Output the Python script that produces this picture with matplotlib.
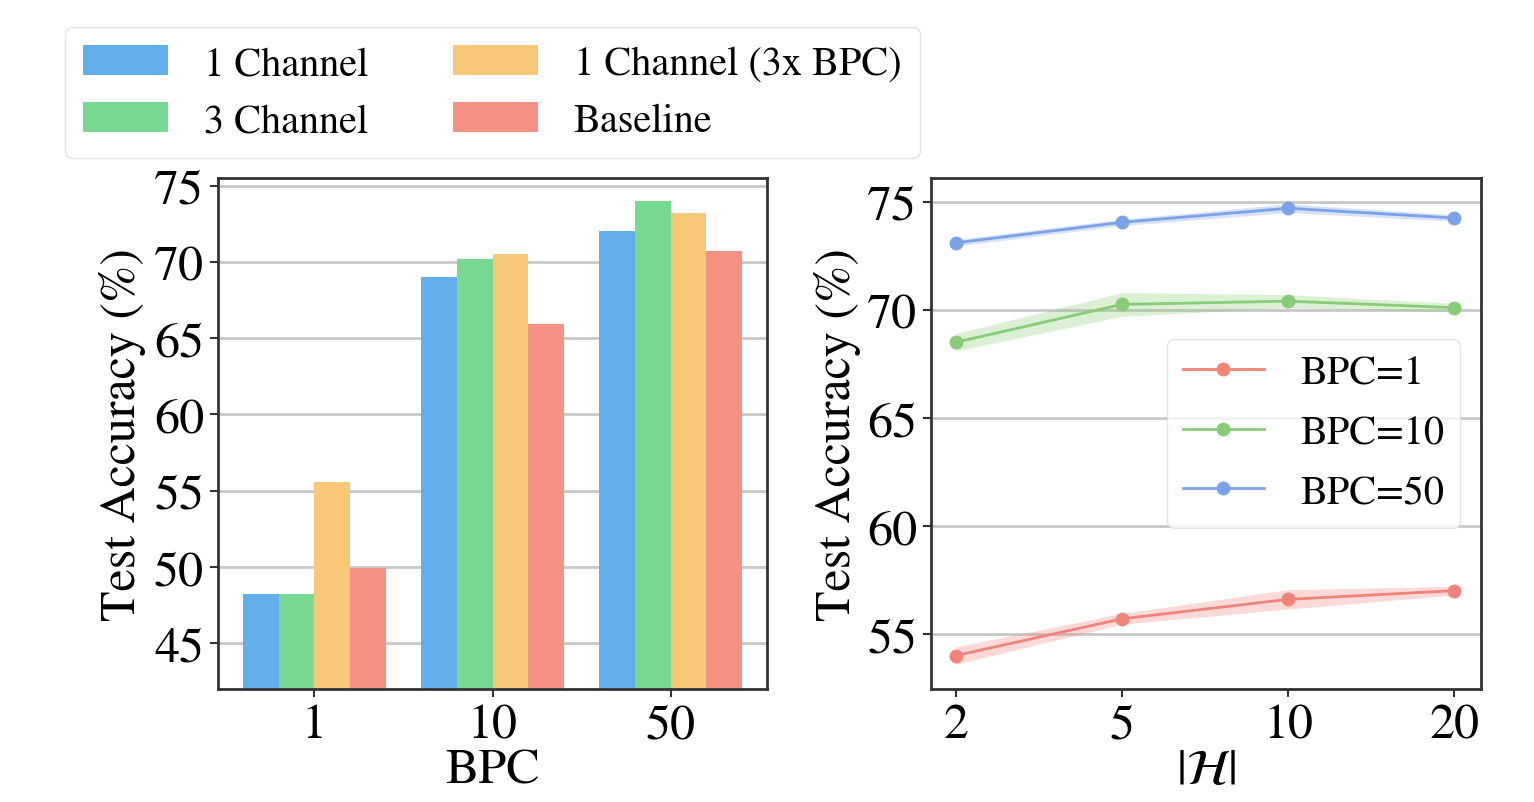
import matplotlib
matplotlib.use("Agg")
import matplotlib.pyplot as plt
import numpy as np

plt.rcParams['font.family'] = ['STIXGeneral', 'DejaVu Serif']
plt.rcParams['mathtext.fontset'] = 'stix'

# left panel: accuracy per BPC
bpc_labels = ['1', '10', '50']
bar_series = ['1 Channel', '3 Channel', '1 Channel (3x BPC)', 'Baseline']
one_channel = [48.2, 69.0, 72.0]
three_channel = [48.2, 70.2, 74.0]
one_channel_3x = [55.6, 70.5, 73.2]
baseline = [49.9, 65.9, 70.7]
bar_colors = ['#64AFEB', '#78D790', '#F6C878', '#F59182']

# right panel: accuracy vs |H|
h_labels = ['2', '5', '10', '20']
bpc1 = [54.0, 55.7, 56.6, 57.0]
bpc1_std = [0.4, 0.25, 0.45, 0.2]
bpc10 = [68.5, 70.25, 70.4, 70.1]
bpc10_std = [0.4, 0.55, 0.3, 0.2]
bpc50 = [73.1, 74.05, 74.7, 74.25]
bpc50_std = [0.15, 0.15, 0.2, 0.15]
line_names = ['BPC=1', 'BPC=10', 'BPC=50']
line_colors = ['#F08478', '#88CC77', '#7BA2E6']

fig = plt.figure(figsize=(15.34, 8.03), dpi=100)
ax1 = fig.add_axes([218/1534, 1-690/803, (767-218)/1534, (690-179)/803])
ax2 = fig.add_axes([931/1534, 1-690/803, (1481-931)/1534, (690-179)/803])

fs = 36
for ax in (ax1, ax2):
    ax.set_axisbelow(True)
    ax.yaxis.grid(True, color='#c8c8c8', linewidth=2)
    for s in ax.spines.values():
        s.set_color('#333333')
        s.set_linewidth(2)
    ax.tick_params(labelsize=fs, width=1.5, length=6, color='#333333', pad=4)

x = np.arange(len(bpc_labels))
w = 0.2
for i, vals in enumerate([one_channel, three_channel, one_channel_3x, baseline]):
    ax1.bar(x + (i - 1.5) * w, vals, w, color=bar_colors[i], label=bar_series[i])
ax1.set_xticks(x)
ax1.set_xticklabels(bpc_labels)
ax1.set_ylim(42, 75.5)
ax1.set_yticks([45, 50, 55, 60, 65, 70, 75])
ax1.set_xlabel('BPC', fontsize=fs, labelpad=0)
ax1.set_ylabel('Test Accuracy (%)', fontsize=fs, labelpad=6)

h1, l1 = ax1.get_legend_handles_labels()
fig.legend(h1, l1, ncol=2, loc='upper left', bbox_to_anchor=(0.0424, 0.965),
           borderaxespad=0, fontsize=29, handlelength=2.1, handleheight=0.75,
           columnspacing=2.1, handletextpad=0.9, labelspacing=0.48, borderpad=0.45,
           frameon=True, edgecolor='#dddddd', fancybox=True)

xh = np.arange(len(h_labels))
for vals, sd, name, c in zip([bpc1, bpc10, bpc50], [bpc1_std, bpc10_std, bpc50_std],
                             line_names, line_colors):
    vals = np.array(vals)
    sd = np.array(sd)
    ax2.fill_between(xh, vals - sd, vals + sd, color=c, alpha=0.3, linewidth=0)
    ax2.plot(xh, vals, color=c, marker='o', markersize=9, linewidth=2, label=name)
ax2.set_xticks(xh)
ax2.set_xticklabels(h_labels)
ax2.set_xlim(-0.15, 3.16)
ax2.set_ylim(52.45, 76.1)
ax2.set_yticks([55, 60, 65, 70, 75])
ax2.set_xlabel(r'$|\mathcal{H}|$', fontsize=fs, labelpad=0)
ax2.set_ylabel('Test Accuracy (%)', fontsize=fs, labelpad=4)
ax2.legend(loc='upper right', bbox_to_anchor=(0.962, 0.685), borderaxespad=0,
           fontsize=29, handlelength=2.0, handletextpad=0.9, labelspacing=0.55,
           frameon=True, edgecolor='#dddddd', fancybox=True)

fig.savefig('out.png', dpi=100)
